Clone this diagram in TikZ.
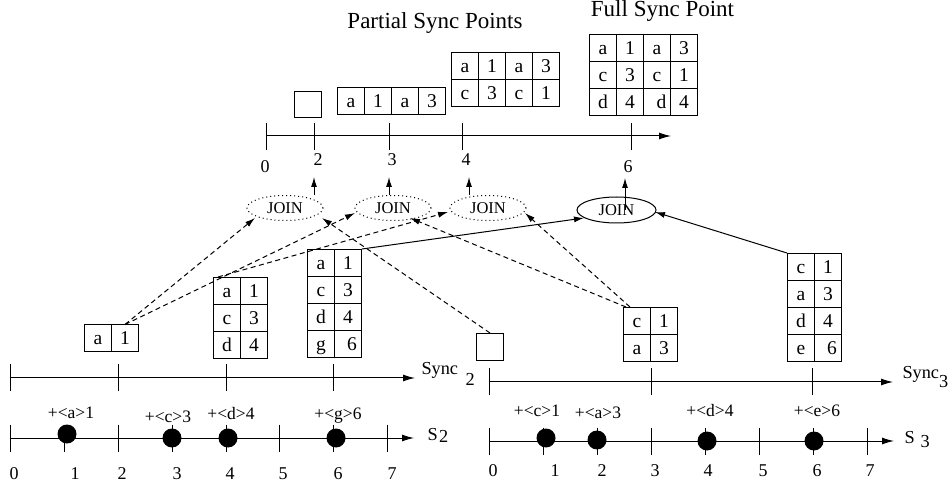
\documentclass[tikz,border=0pt]{standalone}
\usepackage{fontspec}
\setmainfont{Liberation Serif}
\usetikzlibrary{arrows.meta,shapes.geometric,matrix}
\begin{document}
\begin{tikzpicture}[x=1pt,y=-1pt,line width=1pt,
 tip/.style={-{Latex[length=10pt,width=6pt]}},
 axtip/.style={-{Latex[length=12pt,width=7pt]}},
 dsh/.style={dash pattern=on 5pt off 3.5pt},
 tbl/.style={matrix of nodes, inner sep=0pt, outer sep=0pt, anchor=north west,
   column sep=-1pt, row sep=-1pt,
   nodes={draw, line width=1pt, minimum width=27pt, minimum height=27pt,
     inner sep=0pt, outer sep=0pt, anchor=center, text height=13pt, text depth=0pt,
     font=\fontsize{19.5}{19.5}\selectfont}},
 ebox/.style={draw, minimum width=27pt, minimum height=27pt, inner sep=0pt, anchor=north west},
 joinbase/.style={ellipse, minimum width=76pt, minimum height=25pt, inner sep=0pt,
   font=\fontsize{16.5}{16.5}\selectfont},
 joind/.style={joinbase, draw, dash pattern=on 1pt off 3pt},
 joins/.style={joinbase, draw, minimum width=79pt, minimum height=26pt},
 num/.style={anchor=base, inner sep=0pt, font=\fontsize{18}{18}\selectfont},
 evt/.style={anchor=base, inner sep=0pt, font=\fontsize{17.5}{17.5}\selectfont},
 axl/.style={anchor=base west, inner sep=0pt, font=\fontsize{18.3}{20}\selectfont},
 ttl/.style={anchor=base, inner sep=0pt, font=\fontsize{23}{25}\selectfont},
 dotn/.style={circle, fill=black, minimum size=19pt, inner sep=0pt},
]
\useasboundingbox (0,0) rectangle (951,486);

% ---------- titles ----------
\node[ttl] (ttlp) at (435,29) {Partial Sync Points};
\node[ttl] (ttlf) at (662.5,16.7) {Full Sync Point};

% ---------- top result tables ----------
\node[ebox, minimum height=26pt] (r0) at (294,91) {};
\matrix (r1) [tbl] at (337,87) {a & 1 & a & 3\\};
\matrix (r2) [tbl] at (451,52) {a & 1 & a & 3\\ c & 3 & c & 1\\};
\matrix (rf) [tbl] at (589,34) {a & 1 & a & 3\\ c & 3 & c & 1\\ d & 4 & \hspace{9pt}d & 4\\};

% ---------- top axis ----------
\coordinate (t0) at (266,136);
\coordinate (tend) at (671,136);
\draw[axtip] (t0) -- (tend);
\foreach \x in {266,314,389,462,631} \draw (\x,123) -- (\x,150);
\node[num] (l0) at (265,173) {0};
\node[num] (l2) at (318,166) {2};
\node[num] (l3) at (392,166) {3};
\node[num] (l4) at (466,166) {4};
\node[num] (l6) at (628,173) {6};

% ---------- joins ----------
\node[joind] (j1) at (285,208) {JOIN};
\node[joind] (j2) at (393,208) {JOIN};
\node[joind] (j3) at (488,208) {JOIN};
\node[joins] (j4) at (616.5,210) {JOIN};

\coordinate (u1) at (314,177);
\coordinate (u2) at (389,177);
\coordinate (u3) at (469,177);
\coordinate (u4) at (625,178);
\draw[tip] (u1 |- j1.north) -- (u1);
\draw[tip] (u2 |- j2.north) -- (u2);
\draw[tip] (u3 |- j3.north) -- (u3);
\draw[tip] (u4 |- j4.center) -- (u4);

% ---------- S2 side tables ----------
\matrix (ta) [tbl] at (84,324) {a & 1\\};
\matrix (tb) [tbl] at (213,277) {a & 1\\ c & 3\\ d & 4\\};
\matrix (tg) [tbl] at (307,249) {a & 1\\ c & 3\\ d & 4\\ g & \hspace{8pt}6\\};

% ---------- S3 side tables ----------
\node[ebox] (e3) at (476,333) {};
\matrix (tc) [tbl] at (623,307) {c & 1\\ a & 3\\};
\matrix (te) [tbl] at (787,253) {c & 1\\ a & 3\\ d & 4\\ e & \hspace{8pt}6\\};

% ---------- connectors ----------
\draw[dsh,tip] (ta-1-2.north) -- ([shift={(-30,10)}]j1.center);
\draw[dsh,tip] (ta-1-2.north) -- ([shift={(-38,5)}]j2.center);
\draw[dsh,tip] ([xshift=5pt]tb.north west) -- ([shift={(-40,4)}]j3.center);
\draw[dsh,tip] (e3.north) -- ([shift={(37,10)}]j1.center);
\draw[dsh,tip] ([xshift=3pt]tc.north west) -- ([shift={(17,10)}]j2.center);
\draw[dsh,tip] ([xshift=7pt]tc.north west) -- ([shift={(37,5)}]j3.center);
\draw[tip] (tg.north east) -- ([shift={(-32.5,8)}]j4.center);
\draw[tip] (te.north west) -- ([shift={(38.5,2)}]j4.center);

% ---------- Sync2 axis ----------
\coordinate (sy2a) at (10,378);
\coordinate (sy2b) at (415,378);
\draw[axtip] (sy2a) -- (sy2b);
\foreach \x in {10,118,226,333} \draw (\x,364.5) -- (\x,391.5);
\node[axl] (sy2l) at (421,375) {Sync\hspace{7.5pt}\raisebox{-11pt}{2}};

% ---------- S2 axis ----------
\coordinate (s2a) at (10,438);
\coordinate (s2b) at (414,438);
\draw[axtip] (s2a) -- (s2b);
\foreach \x in {10,64,118,172,226,279,333,387} \draw (\x,424.5) -- (\x,451.5);
\node[dotn] (d21) at (67,434) {};
\node[dotn] (d23) at (172,438) {};
\node[dotn] (d24) at (228,438) {};
\node[dotn] (d26) at (336,438) {};
\node[evt] (ev21) at (71,418) {+<a>1};
\node[evt] (ev23) at (168,422) {+<c>3};
\node[evt] (ev24) at (231,420) {+<d>4};
\node[evt] (ev26) at (338,419) {+<g>6};
\node[axl] (s2l) at (427,440) {S\hspace{1.5pt}\raisebox{-2pt}{2}};
\foreach \x/\t in {14/0,75/1,122/2,177/3,230/4,283/5,338/6,392/7}
  \node[num] (bl\t) at (\x,479) {\t};

% ---------- Sync3 axis ----------
\coordinate (sy3a) at (489,382);
\coordinate (sy3b) at (893,382);
\draw[axtip] (sy3a) -- (sy3b);
\foreach \x in {489,651,812} \draw (\x,368.5) -- (\x,395.5);
\node[axl] (sy3l) at (902,379) {Sync\raisebox{-9pt}{3}};

% ---------- S3 axis ----------
\coordinate (s3a) at (489,441);
\coordinate (s3b) at (894,441);
\draw[axtip] (s3a) -- (s3b);
\foreach \x in {489,543,597,651,705,759,813,867} \draw (\x,427.5) -- (\x,454.5);
\node[dotn] (d31) at (546,438) {};
\node[dotn] (d32) at (597,440) {};
\node[dotn] (d34) at (707,441) {};
\node[dotn] (d36) at (814,441) {};
\node[evt] (ev31) at (537,417) {+<c>1};
\node[evt] (ev33) at (598,418) {+<a>3};
\node[evt] (ev34) at (710,417) {+<d>4};
\node[evt] (ev36) at (817,417) {+<e>6};
\node[axl] (s3l) at (904,443) {S\hspace{6pt}\raisebox{-4pt}{3}};
\foreach \x/\t in {493/0,555/1,602/2,655/3,708/4,763/5,817/6,870/7}
  \node[num] (br\t) at (\x,476) {\t};
\end{tikzpicture}
\end{document}
